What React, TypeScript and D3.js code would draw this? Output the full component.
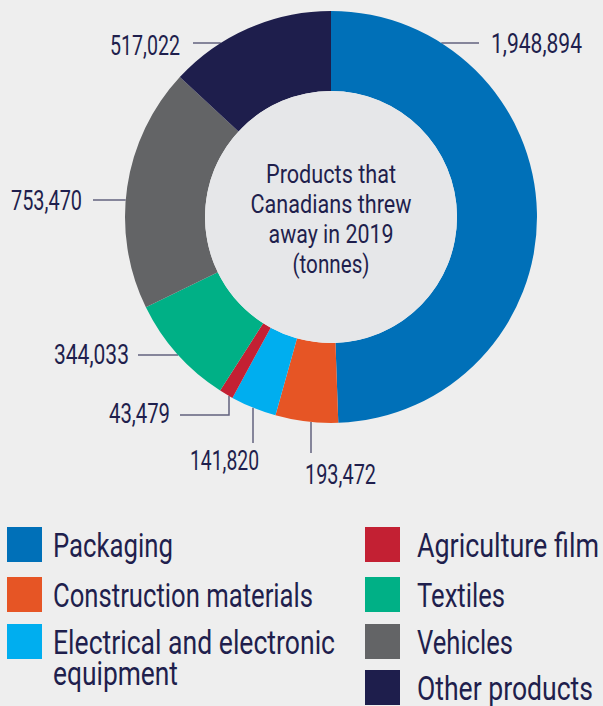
import React from "react";
import * as d3 from "d3";

const categories = [
  "Packaging",
  "Construction materials",
  "Electrical and electronic equipment",
  "Agriculture film",
  "Textiles",
  "Vehicles",
  "Other products",
];
const values = [1948894, 193472, 141820, 43479, 344033, 753470, 517022];
const colors = ["#0070b8", "#e65525", "#00aeef", "#c32033", "#00b086", "#636466", "#1e1e4c"];
const centerLines = ["Products that", "Canadians threw", "away in 2019", "(tonnes)"];

const W = 603;
const H = 706;
const CX = 331;
const CY = 217;
const R_OUT = 206;
const R_IN = 126;
const FONT = "'Liberation Sans Narrow', 'Roboto', 'DejaVu Sans Condensed', sans-serif";
const TEXT = "#1f1f4d";
const LINE = "#62627e";

// label layout: text position, anchor, width; leader: horizontal at y (to x2) or vertical at x (to y2), or elbow
type Lab = { tx: number; ty: number; anchor: string; w: number; kind: string; at: number; to: number; ex?: number };
const labelLayout: Lab[] = [
  { tx: 491, ty: 53, anchor: "start", w: 91, kind: "h", at: 43, to: 479 },
  { tx: 305, ty: 484, anchor: "start", w: 71, kind: "v", at: 311, to: 453 },
  { tx: 259, ty: 470, anchor: "end", w: 69, kind: "v", at: 253, to: 443 },
  { tx: 170, ty: 423, anchor: "end", w: 61, kind: "e", at: 229, to: 415, ex: 180 },
  { tx: 129, ty: 364, anchor: "end", w: 75, kind: "h", at: 355, to: 138 },
  { tx: 82, ty: 210, anchor: "end", w: 71, kind: "h", at: 200, to: 93 },
  { tx: 180, ty: 55, anchor: "end", w: 70, kind: "h", at: 43, to: 193 },
];

const legendCols = [
  { x: 7, tx: 53, items: [0, 1, 2] },
  { x: 365, tx: 417, items: [3, 4, 5, 6] },
];
const legendRowY = [527, 577, 624, 670];
const legendLines: Record<number, { text: string; w: number }[]> = {
  0: [{ text: "Packaging", w: 120 }],
  1: [{ text: "Construction materials", w: 260 }],
  2: [
    { text: "Electrical and electronic", w: 282 },
    { text: "equipment", w: 125 },
  ],
  3: [{ text: "Agriculture film", w: 182 }],
  4: [{ text: "Textiles", w: 88 }],
  5: [{ text: "Vehicles", w: 96 }],
  6: [{ text: "Other products", w: 176 }],
};
const centerWidths = [130, 161, 125, 77];

export default function App() {
  const fmt = d3.format(",");
  const pie = d3.pie<number>().sort(null).value((d) => d)(values);
  const arc = d3.arc<d3.PieArcDatum<number>>().innerRadius(R_IN).outerRadius(R_OUT);

  const leader = (l: Lab, i: number) => {
    const mid = (pie[i].startAngle + pie[i].endAngle) / 2;
    const right = Math.sin(mid) >= 0;
    const below = Math.cos(mid) < 0;
    if (l.kind === "h") {
      const dy = l.at - CY;
      const dx = Math.sqrt(R_OUT * R_OUT - dy * dy);
      const x1 = CX + (right ? dx : -dx);
      return `M${x1},${l.at}L${l.to},${l.at}`;
    }
    const dx = l.at - CX;
    const dy = Math.sqrt(R_OUT * R_OUT - dx * dx);
    const y1 = CY + (below ? dy : -dy);
    if (l.kind === "v") return `M${l.at},${y1}L${l.at},${l.to}`;
    return `M${l.at},${y1}L${l.at},${l.to}L${l.ex},${l.to}`;
  };

  return (
    <svg
      width={W}
      height={H}
      style={{ position: "absolute", left: 0, top: 0 }}
      fontFamily={FONT}
    >
      <rect width={W} height={H} fill="#eeeeee" />
      <g>
        {labelLayout.map((l, i) => (
          <path key={"l" + i} d={leader(l, i)} stroke={LINE} strokeWidth={1.5} fill="none" />
        ))}
      </g>
      <g transform={`translate(${CX},${CY})`}>
        {pie.map((p, i) => (
          <path key={i} d={arc(p) || ""} fill={colors[i]} />
        ))}
        <circle r={R_IN} fill="#e6e7e9" />
        {centerLines.map((t, i) => (
          <text
            key={t}
            x={0}
            y={-34 + i * 30}
            textAnchor="middle"
            fontSize={26}
            fill={TEXT}
            textLength={centerWidths[i]}
            lengthAdjust="spacingAndGlyphs"
          >
            {t}
          </text>
        ))}
      </g>
      {labelLayout.map((l, i) => (
        <text
          key={"t" + i}
          x={l.tx}
          y={l.ty}
          textAnchor={l.anchor}
          fontSize={28}
          fill={TEXT}
          textLength={l.w}
          lengthAdjust="spacingAndGlyphs"
        >
          {fmt(values[i])}
        </text>
      ))}
      {legendCols.map((c) =>
        c.items.map((idx, r) => (
          <g key={idx}>
            <rect x={c.x} y={legendRowY[r]} width={35} height={35} fill={colors[idx]} />
            {legendLines[idx].map((ln, k) => (
              <text
                key={k}
                x={c.tx}
                y={legendRowY[r] + 30 + k * 31}
                fontSize={34}
                fill={TEXT}
                textLength={ln.w}
                lengthAdjust="spacingAndGlyphs"
              >
                {ln.text}
              </text>
            ))}
          </g>
        ))
      )}
    </svg>
  );
}
